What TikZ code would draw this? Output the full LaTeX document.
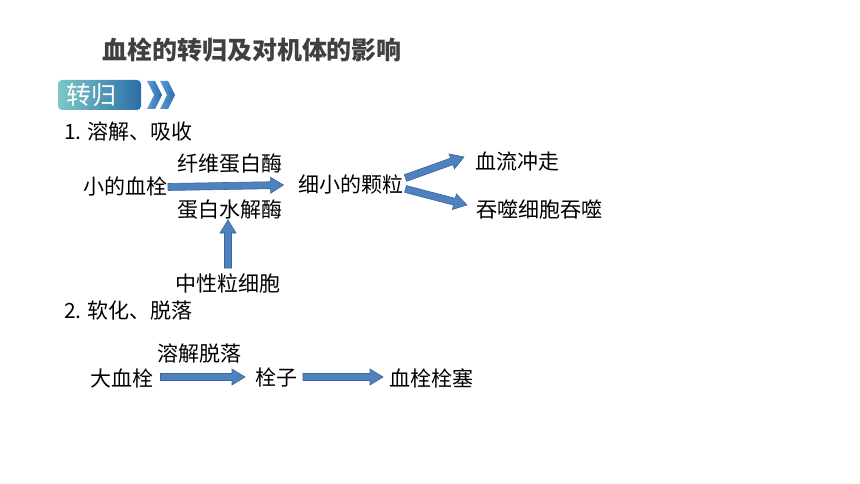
\documentclass[tikz,border=0pt]{standalone}
\usepackage{fontspec}
\setmainfont{Noto Sans CJK SC}
\usetikzlibrary{calc}
\definecolor{arrowfill}{HTML}{4F81BD}
\definecolor{arrowline}{HTML}{3A679C}
\definecolor{titlegray}{HTML}{404040}
\definecolor{chipleft}{HTML}{7CC8C6}
\definecolor{chipright}{HTML}{2C6EA6}
\definecolor{chevronlight}{HTML}{5C9FD8}
\definecolor{chevrondark}{HTML}{2D6AA8}

\begin{document}
\begin{tikzpicture}
    [
        x = 1pt, y = -1pt,
        every node/.append style = {inner sep = 0, outer sep = 0},
        body/.style = {font = \fontsize{21}{24}\selectfont},
        heading/.style = {font = \fontsize{25}{28}\selectfont\bfseries, text = titlegray},
        blockarrow/.style = {draw = arrowline, fill = arrowfill, line width = 0.6pt, line join = miter,
            to path = {
                ($(\tikztostart)!3.5pt!90:(\tikztotarget)$)
                -- ($(\tikztotarget)!13pt!(\tikztostart)!3.5pt!-90:(\tikztostart)$)
                -- ($(\tikztotarget)!13pt!(\tikztostart)!8pt!-90:(\tikztostart)$)
                -- (\tikztotarget)
                -- ($(\tikztotarget)!13pt!(\tikztostart)!8pt!90:(\tikztostart)$)
                -- ($(\tikztotarget)!13pt!(\tikztostart)!3.5pt!90:(\tikztostart)$)
                -- ($(\tikztostart)!3.5pt!-90:(\tikztotarget)$)
                -- cycle}}]

    \useasboundingbox [fill = white] (0,0) rectangle (860,484);

    % title and section chip
    \node [heading] (title) at (252,50) {血栓的转归及对机体的影响};
    \shade [left color = chipleft, right color = chipright, rounded corners = 4pt] (58,80) rectangle (141,110);
    \node [font = \fontsize{25}{28}\selectfont, text = white] (chip) at (91,95) {转归};
    \foreach \dx in {0,13}
        \shade [left color = chevronlight, right color = chevrondark, xshift = \dx pt]
            (147,81) -- (155,81) -- (162,95) -- (155,109) -- (147,109) -- (154,95) -- cycle;

    % 1. dissolving
    \node [body, anchor = west] (part1) at (64,131) {1. 溶解、吸收};
    \node [body] (clot) at (125,186) {小的血栓};
    \node [body] (fib) at (230,164) {纤维蛋白酶};
    \node [body] (prot) at (230,210) {蛋白水解酶};
    \node [body] (grain) at (351,184) {细小的颗粒};
    \node [body] (flush) at (517,162) {血流冲走};
    \node [body] (phago) at (539,210) {吞噬细胞吞噬};
    \node [body] (neut) at (228,284) {中性粒细胞};

    \draw [blockarrow] ([shift = {(1,1)}]clot.east) to ([shift = {(-15,1)}]grain.west);
    \draw [blockarrow] ([shift = {(2,-6)}]grain.east) to ([shift = {(-11,-5)}]flush.west);
    \draw [blockarrow] ([shift = {(2,5)}]grain.east) to ([shift = {(-9,-5)}]phago.west);
    \draw [blockarrow] ([shift = {(0,-16)}]neut.center) to ([shift = {(-2,10)}]prot.center);

    % 2. softening
    \node [body, anchor = west] (part2) at (64,311) {2. 软化、脱落};
    \node [body] (big) at (122,378) {大血栓};
    \node [body] (melt) at (199,353) {溶解脱落};
    \node [body] (emb) at (276,378) {栓子};
    \node [body] (embol) at (431,378) {血栓栓塞};

    \draw [blockarrow] ([shift = {(7,-1)}]big.east) to ([shift = {(-10,-1)}]emb.west);
    \draw [blockarrow] ([shift = {(6,-1)}]emb.east) to ([shift = {(-6,-1)}]embol.west);

\end{tikzpicture}
\end{document}
